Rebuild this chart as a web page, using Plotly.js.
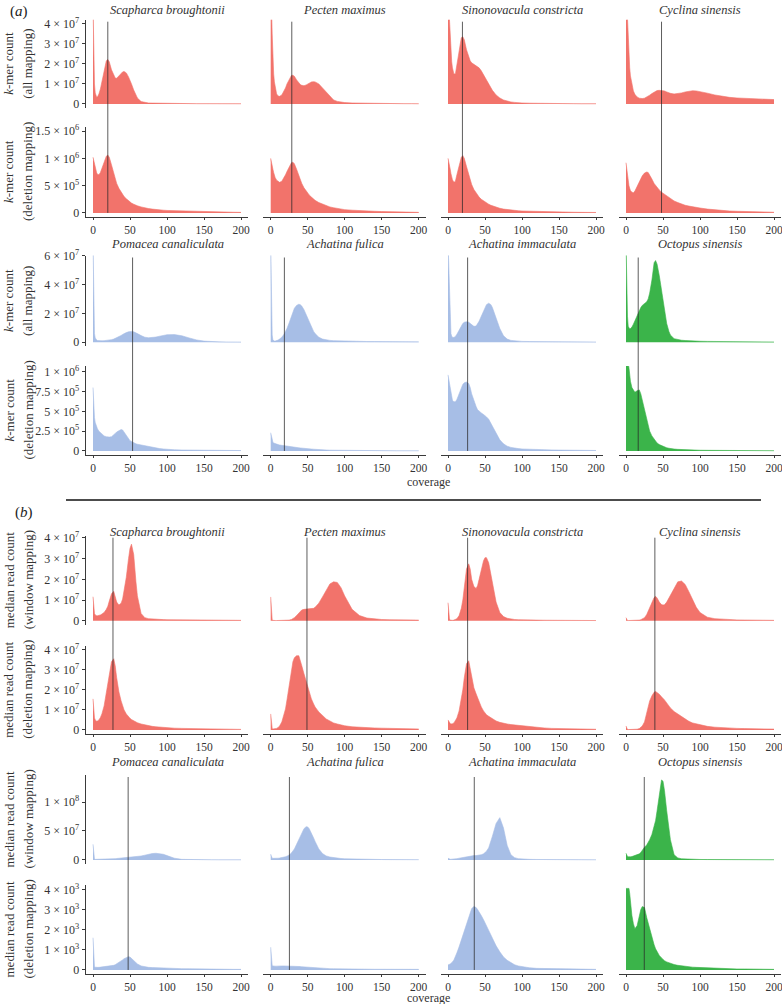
<!DOCTYPE html>
<html><head><meta charset="utf-8">
<script src="https://cdn.plot.ly/plotly-3.0.1.min.js"></script>
<style>html,body{margin:0;padding:0;background:#fff}#chart{width:782px;height:1004px}</style>
</head><body><div id="chart"></div>
<script>
// ---------------- DATA ----------------
const coverage = [0,1,2,3,4,5,6,8,10,12,15,18,20,22,25,28,30,32,35,38,40,42,45,48,50,52,55,58,60,65,70,75,80,85,90,95,100,110,120,130,140,150,160,170,180,190,200];

const speciesTop = ["Scapharca broughtonii","Pecten maximus","Sinonovacula constricta","Cyclina sinensis"];
const speciesBottom = ["Pomacea canaliculata","Achatina fulica","Achatina immaculata","Octopus sinensis"];
const speciesGroup = ["bivalve","bivalve","bivalve","bivalve","gastropod","gastropod","gastropod","cephalopod"];

// (a) k-mer count, all mapping, top species (units of 1e7)
const kmerAll_Scapharca = [5,2.1,1.0,0.55,0.38,0.33,0.35,0.5,0.75,1.1,1.65,2.15,2.22,2.1,1.7,1.4,1.3,1.28,1.4,1.55,1.6,1.62,1.55,1.35,1.2,1.0,0.7,0.45,0.3,0.12,0.07,0.05,0.045,0.04,0.035,0.03,0.03,0.025,0.02,0.02,0.015,0.015,0.01,0.01,0.01,0.01,0.01];
const kmerAll_Pecten = [5,5,3.5,2.2,1.5,1.1,0.8,0.5,0.4,0.38,0.45,0.65,0.8,1.0,1.25,1.42,1.43,1.38,1.2,1.05,0.97,0.93,0.91,0.95,1.0,1.05,1.1,1.11,1.1,1.0,0.8,0.55,0.35,0.2,0.13,0.09,0.07,0.05,0.04,0.035,0.03,0.025,0.02,0.02,0.015,0.015,0.01];
const kmerAll_Sinonovacula = [5,5,4.2,3.2,2.6,2.1,1.8,1.5,1.5,1.9,2.7,3.3,3.35,3.2,2.7,2.3,2.15,2.05,1.98,1.92,1.87,1.8,1.65,1.45,1.3,1.15,0.95,0.78,0.68,0.45,0.3,0.2,0.14,0.1,0.08,0.06,0.05,0.04,0.03,0.025,0.02,0.02,0.015,0.015,0.01,0.01,0.01];
const kmerAll_Cyclina = [5,5,4.3,3.2,2.4,1.8,1.4,0.95,0.65,0.48,0.35,0.29,0.27,0.27,0.29,0.34,0.38,0.44,0.52,0.6,0.64,0.67,0.68,0.68,0.67,0.65,0.6,0.55,0.53,0.5,0.51,0.55,0.6,0.64,0.66,0.65,0.62,0.54,0.45,0.38,0.33,0.3,0.28,0.26,0.24,0.23,0.22];

// (a) k-mer count, deletion mapping, top species (units of 1e6)
const kmerDel_Scapharca = [1.02,0.95,0.88,0.82,0.77,0.73,0.71,0.7,0.74,0.82,0.95,1.04,1.06,1.02,0.88,0.72,0.62,0.54,0.45,0.38,0.34,0.3,0.26,0.22,0.2,0.18,0.16,0.14,0.13,0.11,0.09,0.08,0.07,0.06,0.055,0.05,0.045,0.04,0.035,0.03,0.025,0.02,0.018,0.015,0.013,0.012,0.01];
const kmerDel_Pecten = [1.0,0.95,0.88,0.8,0.74,0.69,0.65,0.6,0.57,0.56,0.58,0.64,0.7,0.76,0.85,0.92,0.93,0.9,0.8,0.68,0.6,0.54,0.46,0.4,0.36,0.33,0.29,0.25,0.23,0.19,0.16,0.13,0.11,0.095,0.08,0.07,0.06,0.05,0.04,0.035,0.03,0.025,0.02,0.018,0.015,0.013,0.01];
const kmerDel_Sinonovacula = [1.0,0.95,0.88,0.8,0.72,0.66,0.61,0.56,0.58,0.7,0.88,1.02,1.05,1.0,0.85,0.7,0.6,0.52,0.43,0.36,0.32,0.29,0.25,0.22,0.2,0.18,0.16,0.14,0.13,0.1,0.085,0.07,0.06,0.05,0.045,0.04,0.035,0.03,0.025,0.02,0.018,0.015,0.013,0.012,0.01,0.01,0.008];
const kmerDel_Cyclina = [0.92,0.8,0.68,0.58,0.5,0.45,0.41,0.38,0.37,0.4,0.48,0.58,0.63,0.68,0.73,0.75,0.74,0.7,0.62,0.54,0.5,0.46,0.42,0.38,0.36,0.34,0.31,0.28,0.26,0.22,0.19,0.16,0.14,0.125,0.11,0.1,0.09,0.07,0.055,0.045,0.035,0.03,0.025,0.02,0.018,0.015,0.012];

// (a) k-mer count, all mapping, bottom species (units of 1e7)
const kmerAll_Pomacea = [7,1.8,0.6,0.3,0.2,0.15,0.12,0.1,0.1,0.1,0.11,0.12,0.13,0.15,0.18,0.22,0.26,0.3,0.38,0.47,0.54,0.6,0.67,0.72,0.74,0.75,0.72,0.66,0.6,0.46,0.35,0.31,0.32,0.36,0.42,0.48,0.52,0.53,0.45,0.3,0.16,0.08,0.04,0.03,0.02,0.02,0.015];
const kmerAll_AFulica = [7,2.9,0.5,0.15,0.1,0.08,0.08,0.1,0.15,0.22,0.35,0.55,0.72,0.95,1.35,1.8,2.1,2.35,2.55,2.63,2.6,2.5,2.25,1.9,1.65,1.4,1.05,0.75,0.6,0.35,0.22,0.16,0.13,0.11,0.1,0.09,0.08,0.07,0.06,0.05,0.05,0.04,0.04,0.03,0.03,0.03,0.03];
const kmerAll_AImmaculata = [7,5,2.8,1.2,0.6,0.42,0.35,0.33,0.4,0.55,0.85,1.15,1.3,1.38,1.42,1.38,1.28,1.18,1.1,1.12,1.25,1.45,1.8,2.2,2.45,2.6,2.7,2.6,2.4,1.7,0.95,0.45,0.22,0.13,0.09,0.07,0.06,0.05,0.045,0.04,0.035,0.03,0.03,0.025,0.025,0.02,0.02];
const kmerAll_Octopus = [7,4,1.8,1.1,0.95,0.92,0.95,1.05,1.25,1.5,1.85,2.2,2.4,2.55,2.65,2.8,3.0,3.4,4.3,5.5,5.65,5.4,4.6,3.5,2.8,2.1,1.3,0.75,0.5,0.25,0.17,0.14,0.12,0.1,0.09,0.08,0.07,0.06,0.05,0.045,0.04,0.035,0.03,0.03,0.025,0.02,0.02];

// (a) k-mer count, deletion mapping, bottom species (units of 1e6)
const kmerDel_Pomacea = [0.8,0.55,0.42,0.36,0.32,0.3,0.28,0.25,0.23,0.21,0.19,0.18,0.175,0.175,0.18,0.2,0.22,0.24,0.26,0.27,0.265,0.24,0.19,0.15,0.13,0.12,0.1,0.09,0.085,0.075,0.065,0.055,0.045,0.035,0.03,0.025,0.02,0.015,0.012,0.01,0.01,0.008,0.008,0.007,0.006,0.005,0.005];
const kmerDel_AFulica = [0.23,0.17,0.13,0.11,0.1,0.095,0.09,0.085,0.08,0.075,0.07,0.065,0.062,0.058,0.055,0.05,0.048,0.045,0.042,0.04,0.038,0.035,0.032,0.03,0.028,0.026,0.024,0.022,0.02,0.017,0.014,0.012,0.01,0.009,0.008,0.007,0.006,0.005,0.004,0.004,0.003,0.003,0.003,0.002,0.002,0.002,0.002];
const kmerDel_AImmaculata = [0.96,0.9,0.83,0.77,0.71,0.67,0.64,0.62,0.62,0.65,0.72,0.8,0.84,0.86,0.87,0.85,0.8,0.72,0.63,0.56,0.52,0.5,0.48,0.46,0.45,0.43,0.4,0.35,0.31,0.22,0.14,0.09,0.06,0.045,0.035,0.03,0.025,0.02,0.017,0.015,0.013,0.011,0.01,0.009,0.008,0.007,0.006];
const kmerDel_Octopus = [1.1,1.1,1.1,1.1,1.05,0.95,0.88,0.8,0.76,0.74,0.76,0.77,0.72,0.64,0.5,0.38,0.31,0.25,0.19,0.15,0.12,0.1,0.08,0.065,0.055,0.048,0.04,0.034,0.03,0.024,0.02,0.017,0.015,0.013,0.011,0.01,0.009,0.008,0.007,0.006,0.005,0.005,0.004,0.004,0.003,0.003,0.003];

// (b) median read count, window mapping, top species (units of 1e7)
const readWin_Scapharca = [1.16,0.6,0.35,0.28,0.25,0.24,0.24,0.25,0.28,0.32,0.4,0.55,0.7,0.95,1.3,1.42,1.2,0.9,0.76,0.85,1.05,1.4,2.1,3.0,3.5,3.7,3.2,1.9,1.2,0.35,0.15,0.1,0.08,0.07,0.06,0.055,0.05,0.045,0.04,0.035,0.03,0.03,0.025,0.025,0.02,0.02,0.02];
const readWin_Pecten = [1.15,0.3,0.05,0.02,0.01,0.01,0.01,0.01,0.01,0.01,0.01,0.01,0.02,0.02,0.03,0.06,0.1,0.15,0.25,0.38,0.46,0.52,0.55,0.56,0.56,0.55,0.56,0.6,0.65,0.85,1.15,1.5,1.78,1.88,1.85,1.6,1.2,0.55,0.25,0.13,0.08,0.06,0.05,0.04,0.035,0.03,0.03];
const readWin_Sinonovacula = [0.87,0.3,0.08,0.03,0.02,0.02,0.02,0.03,0.05,0.1,0.25,0.6,1.0,1.6,2.5,2.75,2.5,2.0,1.65,1.56,1.7,2.0,2.5,2.9,3.05,3.05,2.8,2.2,1.8,0.9,0.4,0.2,0.12,0.08,0.06,0.05,0.04,0.035,0.03,0.025,0.02,0.02,0.02,0.015,0.015,0.015,0.01];
const readWin_Cyclina = [0.15,0.05,0.01,0.01,0.01,0.01,0.01,0.01,0.01,0.01,0.02,0.03,0.05,0.08,0.15,0.3,0.45,0.65,0.9,1.12,1.18,1.1,0.9,0.78,0.76,0.77,0.9,1.1,1.25,1.6,1.88,1.92,1.75,1.4,1.0,0.65,0.4,0.17,0.1,0.07,0.05,0.04,0.035,0.03,0.025,0.02,0.02];

// (b) median read count, deletion mapping, top species (units of 1e7)
const readDel_Scapharca = [1.55,0.9,0.6,0.5,0.45,0.44,0.45,0.5,0.62,0.8,1.2,1.8,2.3,2.8,3.4,3.55,3.2,2.6,1.9,1.45,1.2,1.0,0.8,0.65,0.58,0.52,0.45,0.4,0.36,0.3,0.25,0.21,0.18,0.16,0.14,0.12,0.11,0.09,0.08,0.07,0.06,0.05,0.045,0.04,0.035,0.03,0.03];
const readDel_Pecten = [0.8,0.2,0.08,0.05,0.05,0.05,0.06,0.08,0.12,0.2,0.4,0.75,1.05,1.5,2.3,3.1,3.4,3.6,3.7,3.7,3.5,3.2,2.8,2.4,2.1,1.85,1.55,1.3,1.15,0.9,0.7,0.55,0.45,0.35,0.3,0.25,0.21,0.16,0.13,0.11,0.1,0.09,0.08,0.07,0.06,0.06,0.05];
const readDel_Sinonovacula = [0.5,0.42,0.36,0.32,0.3,0.3,0.31,0.35,0.45,0.6,0.95,1.5,2.0,2.6,3.3,3.45,3.1,2.6,2.1,1.8,1.6,1.4,1.15,0.95,0.85,0.76,0.68,0.6,0.55,0.45,0.38,0.33,0.3,0.27,0.25,0.22,0.2,0.16,0.13,0.1,0.08,0.07,0.06,0.05,0.045,0.04,0.035];
const readDel_Cyclina = [0.2,0.05,0.02,0.02,0.02,0.02,0.02,0.02,0.02,0.03,0.04,0.07,0.12,0.2,0.4,0.8,1.15,1.45,1.7,1.88,1.92,1.88,1.78,1.65,1.58,1.5,1.35,1.2,1.1,0.92,0.8,0.65,0.52,0.43,0.35,0.3,0.25,0.18,0.14,0.11,0.09,0.08,0.07,0.06,0.05,0.05,0.045];

// (b) median read count, window mapping, bottom species (units of 1e7)
const readWin_Pomacea = [2.7,0.5,0.15,0.1,0.1,0.1,0.1,0.1,0.1,0.1,0.1,0.12,0.13,0.15,0.18,0.2,0.22,0.25,0.28,0.3,0.32,0.34,0.36,0.38,0.4,0.42,0.45,0.5,0.55,0.68,0.82,0.98,1.1,1.15,1.12,0.98,0.75,0.3,0.1,0.05,0.04,0.03,0.03,0.02,0.02,0.02,0.02];
const readWin_AFulica = [1.0,0.4,0.3,0.28,0.27,0.27,0.27,0.28,0.3,0.33,0.38,0.45,0.55,0.65,0.85,1.2,1.5,1.9,2.7,3.6,4.2,4.8,5.4,5.75,5.7,5.4,4.7,3.8,3.2,1.9,1.1,0.7,0.5,0.38,0.3,0.25,0.2,0.15,0.12,0.1,0.08,0.07,0.06,0.05,0.05,0.04,0.04];
const readWin_AImmaculata = [0.3,0.2,0.15,0.12,0.12,0.12,0.13,0.15,0.18,0.22,0.3,0.38,0.45,0.5,0.58,0.66,0.7,0.74,0.75,0.75,0.76,0.8,0.9,1.05,1.25,1.5,2.1,3.2,4.1,6.3,7.3,5.5,2.5,0.9,0.4,0.22,0.15,0.1,0.08,0.06,0.05,0.04,0.04,0.03,0.03,0.03,0.02];
const readWin_Octopus = [1.15,0.8,0.6,0.55,0.52,0.52,0.53,0.58,0.65,0.72,0.85,1.05,1.3,1.7,2.2,2.6,3.0,3.5,4.4,5.6,6.8,8.5,11.5,13.8,13.6,12,8.5,5.2,3.5,0.9,0.35,0.2,0.15,0.12,0.1,0.09,0.08,0.07,0.06,0.05,0.05,0.04,0.04,0.03,0.03,0.03,0.03];

// (b) median read count, deletion mapping, bottom species (units of 1e3)
const readDel_Pomacea = [1.6,0.3,0.15,0.14,0.13,0.13,0.13,0.13,0.14,0.14,0.15,0.16,0.17,0.18,0.2,0.23,0.26,0.3,0.37,0.45,0.5,0.56,0.62,0.66,0.64,0.58,0.48,0.37,0.3,0.2,0.15,0.13,0.12,0.11,0.1,0.09,0.085,0.075,0.065,0.06,0.05,0.045,0.04,0.035,0.03,0.03,0.03];
const readDel_AFulica = [1.13,0.4,0.22,0.2,0.19,0.19,0.19,0.19,0.2,0.2,0.2,0.2,0.2,0.2,0.2,0.19,0.19,0.18,0.18,0.17,0.17,0.16,0.15,0.14,0.13,0.13,0.12,0.11,0.1,0.09,0.08,0.07,0.065,0.06,0.055,0.05,0.05,0.045,0.04,0.04,0.035,0.035,0.03,0.03,0.03,0.03,0.03];
const readDel_AImmaculata = [0.25,0.25,0.28,0.3,0.33,0.36,0.4,0.5,0.65,0.85,1.15,1.5,1.75,2.0,2.35,2.7,2.9,3.05,3.15,3.1,3.0,2.9,2.7,2.5,2.35,2.2,1.95,1.7,1.55,1.2,0.9,0.65,0.48,0.35,0.26,0.2,0.16,0.11,0.08,0.07,0.06,0.05,0.05,0.04,0.04,0.04,0.03];
const readDel_Octopus = [4.05,4.05,4.05,4.05,4.05,3.8,3.3,2.7,2.3,2.05,2.2,2.7,3.0,3.15,3.1,2.6,2.3,2.0,1.6,1.25,1.05,0.9,0.72,0.6,0.52,0.46,0.4,0.35,0.32,0.27,0.23,0.2,0.18,0.16,0.14,0.13,0.12,0.1,0.08,0.07,0.06,0.05,0.05,0.04,0.04,0.03,0.03];

// vertical reference lines (coverage)
const vline_a_top = [20, 28.5, 19.5, 48];
const vline_a_bottom = [53.5, 18.5, 26.5, 16.5];
const vline_b_top = [27, 49, 26.5, 39];
const vline_b_bottom = [47.5, 25.3, 35.5, 24.7];

// row units and tick labels
const rowUnit = [1e7, 1e6, 1e7, 1e6, 1e7, 1e7, 1e7, 1e3];
const tick_r1 = ["0","1 × 10<sup>7</sup>","2 × 10<sup>7</sup>","3 × 10<sup>7</sup>","4 × 10<sup>7</sup>"];
const tickv_r1 = [0,1e7,2e7,3e7,4e7];
const tick_r2 = ["0","5 × 10<sup>5</sup>","1 × 10<sup>6</sup>","1.5 × 10<sup>6</sup>"];
const tickv_r2 = [0,5e5,1e6,1.5e6];
const tick_r3 = ["0","2 × 10<sup>7</sup>","4 × 10<sup>7</sup>","6 × 10<sup>7</sup>"];
const tickv_r3 = [0,2e7,4e7,6e7];
const tick_r4 = ["0","2.5 × 10<sup>5</sup>","5 × 10<sup>5</sup>","7.5 × 10<sup>5</sup>","1 × 10<sup>6</sup>"];
const tickv_r4 = [0,2.5e5,5e5,7.5e5,1e6];
const tick_r5 = tick_r1, tickv_r5 = tickv_r1;
const tick_r6 = tick_r1, tickv_r6 = tickv_r1;
const tick_r7 = ["0","5 × 10<sup>7</sup>","1 × 10<sup>8</sup>"];
const tickv_r7 = [0,5e7,1e8];
const tick_r8 = ["0","1 × 10<sup>3</sup>","2 × 10<sup>3</sup>","3 × 10<sup>3</sup>","4 × 10<sup>3</sup>"];
const tickv_r8 = [0,1e3,2e3,3e3,4e3];
const xTicks = [0,50,100,150,200];

const yTitleLine1 = ["<i>k</i>-mer count","<i>k</i>-mer count","<i>k</i>-mer count","<i>k</i>-mer count","median read count","median read count","median read count","median read count"];
const yTitleLine2 = ["(all mapping)","(deletion mapping)","(all mapping)","(deletion mapping)","(window mapping)","(deletion mapping)","(window mapping)","(deletion mapping)"];

// ---------------- LAYOUT / BUILD ----------------
const rows = [
  [kmerAll_Scapharca,kmerAll_Pecten,kmerAll_Sinonovacula,kmerAll_Cyclina],
  [kmerDel_Scapharca,kmerDel_Pecten,kmerDel_Sinonovacula,kmerDel_Cyclina],
  [kmerAll_Pomacea,kmerAll_AFulica,kmerAll_AImmaculata,kmerAll_Octopus],
  [kmerDel_Pomacea,kmerDel_AFulica,kmerDel_AImmaculata,kmerDel_Octopus],
  [readWin_Scapharca,readWin_Pecten,readWin_Sinonovacula,readWin_Cyclina],
  [readDel_Scapharca,readDel_Pecten,readDel_Sinonovacula,readDel_Cyclina],
  [readWin_Pomacea,readWin_AFulica,readWin_AImmaculata,readWin_Octopus],
  [readDel_Pomacea,readDel_AFulica,readDel_AImmaculata,readDel_Octopus]
];
const rowTicks = [[tickv_r1,tick_r1],[tickv_r2,tick_r2],[tickv_r3,tick_r3],[tickv_r4,tick_r4],[tickv_r5,tick_r5],[tickv_r6,tick_r6],[tickv_r7,tick_r7],[tickv_r8,tick_r8]];
const vlines = [vline_a_top, vline_a_bottom, vline_b_top, vline_b_bottom];
const rowSpecies = [speciesTop, speciesBottom, speciesTop, speciesBottom];

const W = 782, H = 1004;
const colLeft = [85.6, 263.3, 440.6, 618.6], colWidth = 162.8;
const rowTop =    [19.7, 127, 255.5, 366, 535.7, 645.7, 775, 885];
const rowBottom = [108, 217, 346.4, 455, 624.8, 734, 864, 974];
const yRanges = [[-0.2e7,4.2e7],[-0.075e6,1.575e6],[-0.286e7,6.0e7],[-0.051e6,1.072e6],[-0.196e7,4.11e7],[-0.2e7,4.2e7],[-0.07e8,1.466e8],[-0.2e3,4.22e3]];
const colors = {bivalve:"#F2736B", gastropod:"#A7BEE6", cephalopod:"#3BB44A"};
const FONT = "Liberation Serif";
const AX = "#3a3a3a";

const px = v => v / W, py = v => 1 - v / H;
const data = [], layout = {
  width: W, height: H, margin: {l:0,r:0,t:0,b:0,pad:0},
  paper_bgcolor: "#fff", plot_bgcolor: "rgba(0,0,0,0)", showlegend: false,
  font: {family: FONT, color: "#333", size: 11},
  annotations: [], shapes: []
};

for (let r = 0; r < 8; r++) {
  for (let c = 0; c < 4; c++) {
    const idx = r * 4 + c + 1;
    const sx = idx === 1 ? "" : String(idx);
    const group = speciesGroup[(r % 4 < 2 ? 0 : 4) + c];
    const col = colors[group];
    data.push({
      type: "scatter", mode: "lines", x: coverage,
      y: rows[r][c].map(v => v * rowUnit[r]),
      xaxis: "x" + sx, yaxis: "y" + sx,
      fill: "tozeroy", fillcolor: col,
      line: {color: col, width: 0.6}, hoverinfo: "skip"
    });
    const bottomRow = r % 2 === 1;
    layout["xaxis" + sx] = {
      domain: [px(colLeft[c]), px(colLeft[c] + colWidth)],
      range: [-10, 210], anchor: "y" + sx,
      showline: bottomRow, linecolor: AX, linewidth: 1,
      ticks: bottomRow ? "outside" : "", ticklen: 2, tickcolor: AX, tickwidth: 1,
      tickvals: xTicks, showticklabels: bottomRow, ticklabeloverflow: "allow",
      tickfont: {family: FONT, size: 11.5, color: "#333"},
      showgrid: false, zeroline: false, fixedrange: true
    };
    layout["yaxis" + sx] = {
      domain: [py(rowBottom[r]), py(rowTop[r])],
      range: yRanges[r], anchor: "x" + sx,
      showline: c === 0, linecolor: AX, linewidth: 1,
      ticks: c === 0 ? "outside" : "", ticklen: 3, tickcolor: AX, tickwidth: 1,
      tickvals: rowTicks[r][0], ticktext: rowTicks[r][1], showticklabels: c === 0,
      tickfont: {family: FONT, size: 12, color: "#333"},
      showgrid: false, zeroline: false, fixedrange: true
    };
  }
  // y titles
  const yc = (rowTop[r] + rowBottom[r]) / 2;
  layout.annotations.push({xref:"paper",yref:"paper",x:px(9),y:py(yc),text:yTitleLine1[r],textangle:-90,showarrow:false,xanchor:"center",yanchor:"middle",font:{family:FONT,size:13,color:"#333"}});
  layout.annotations.push({xref:"paper",yref:"paper",x:px(28),y:py(yc),text:yTitleLine2[r],textangle:-90,showarrow:false,xanchor:"center",yanchor:"middle",font:{family:FONT,size:13,color:"#333"}});
}

// species titles and vertical lines per pair of rows
const titleY = [10.5, 244, 532, 762];
for (let p = 0; p < 4; p++) {
  const rUp = p * 2, rLo = p * 2 + 1;
  const loRange = yRanges[rLo];
  const zeroPx = rowBottom[rLo] - (0 - loRange[0]) / (loRange[1] - loRange[0]) * (rowBottom[rLo] - rowTop[rLo]);
  for (let c = 0; c < 4; c++) {
    layout.annotations.push({xref:"paper",yref:"paper",x:px(colLeft[c] + colWidth/2),y:py(titleY[p]),
      text:"<i>" + rowSpecies[p][c] + "</i>",showarrow:false,xanchor:"center",yanchor:"middle",
      font:{family:FONT,size:12.5,color:"#333"}});
    const idx = rUp * 4 + c + 1;
    layout.shapes.push({type:"line", xref: idx === 1 ? "x" : "x" + idx, yref:"paper",
      x0: vlines[p][c], x1: vlines[p][c], y0: py(zeroPx), y1: py(rowTop[rUp] + 2),
      line:{color:"rgba(40,40,40,0.75)", width:1}, layer:"above"});
  }
}

// panel labels, x titles, separator
layout.annotations.push({xref:"paper",yref:"paper",x:px(19),y:py(12),text:"(<i>a</i>)",showarrow:false,xanchor:"center",yanchor:"middle",font:{family:FONT,size:15,color:"#222"}});
layout.annotations.push({xref:"paper",yref:"paper",x:px(24),y:py(512),text:"(<i>b</i>)",showarrow:false,xanchor:"center",yanchor:"middle",font:{family:FONT,size:15,color:"#222"}});
layout.annotations.push({xref:"paper",yref:"paper",x:px(428),y:py(482),text:"coverage",showarrow:false,xanchor:"center",yanchor:"middle",font:{family:FONT,size:12,color:"#333"}});
layout.annotations.push({xref:"paper",yref:"paper",x:px(428),y:py(998),text:"coverage",showarrow:false,xanchor:"center",yanchor:"middle",font:{family:FONT,size:12,color:"#333"}});
layout.shapes.push({type:"line",xref:"paper",yref:"paper",x0:px(66),x1:px(761),y0:py(500),y1:py(500),line:{color:"#111",width:1.5}});

Plotly.newPlot("chart", data, layout, {staticPlot: true, displayModeBar: false});
</script>
</body></html>
